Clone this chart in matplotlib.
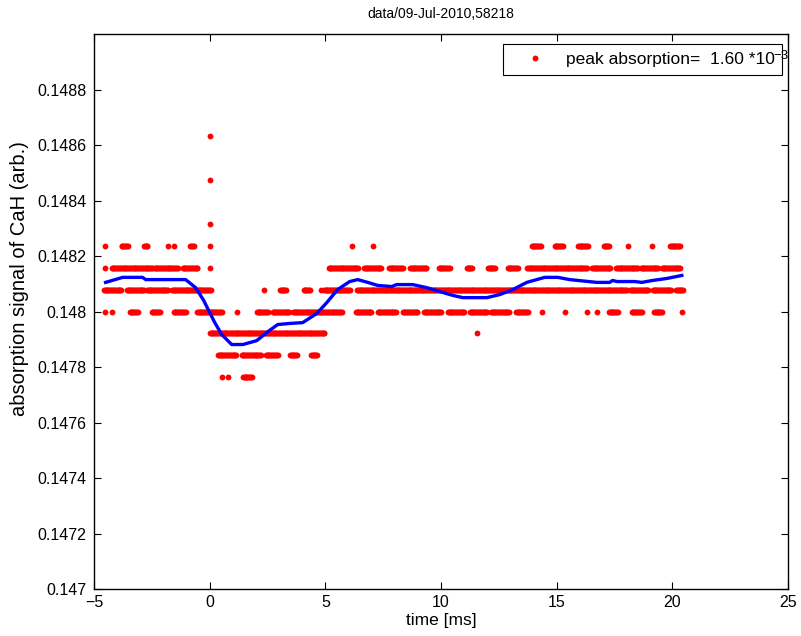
import numpy as np
import matplotlib
matplotlib.use("Agg")
import matplotlib.pyplot as plt

plt.rcParams['font.family'] = ['Liberation Sans', 'DejaVu Sans']

# ADC levels (absorption signal) and sample period [ms]
base_level = 0.148
level_step = 0.0000790
dt = 0.04

# runs of samples sitting on each level: (t_start, t_end) in ms
runs = {
    8: [(0.0, 0.0)],
    6: [(0.0, 0.0)],
    4: [(0.0, 0.0)],
    3: [(-4.54, -4.54), (-3.81, -3.55), (-2.85, -2.68), (-1.82, -1.82), (-1.56, -1.56),
        (-0.86, -0.69), (0.0, 0.0), (6.14, 6.14), (7.05, 7.05), (13.92, 14.31),
        (14.91, 15.26), (15.91, 16.34), (17.03, 17.29), (18.07, 18.07), (19.11, 19.11),
        (19.89, 20.32)],
    2: [(-4.54, -4.54), (-4.24, -3.37), (-3.33, -2.46), (-2.38, -1.38), (-1.17, -0.52),
        (0.0, 0.0), (5.14, 6.40), (6.66, 7.44), (7.74, 8.34), (8.65, 9.38), (9.90, 10.38),
        (11.11, 11.37), (12.02, 12.32), (12.88, 13.32), (13.71, 16.30), (16.52, 17.34),
        (17.56, 18.50), (18.63, 19.37), (19.54, 20.32)],
    1: [(-4.58, -3.81), (-3.59, -2.81), (-2.72, -1.82), (-1.64, 0.04), (2.33, 2.33),
        (3.03, 3.29), (4.06, 4.32), (4.80, 4.80), (4.93, 6.05), (6.36, 18.03),
        (18.16, 18.98), (19.15, 19.97), (20.15, 20.45)],
    0: [(-4.54, -4.54), (-4.24, -4.24), (-3.46, -3.11), (-2.51, -2.16), (-1.56, -1.04),
        (-0.56, 0.52), (1.17, 1.17), (2.03, 2.51), (2.72, 3.46), (3.59, 5.71), (6.31, 7.00),
        (7.26, 8.08), (8.34, 8.99), (9.25, 10.03), (10.29, 11.02), (11.24, 12.02),
        (12.15, 12.97), (13.23, 13.75), (14.35, 14.35), (15.35, 15.35), (16.30, 16.30),
        (16.73, 16.73), (17.25, 17.64), (18.24, 18.68), (19.20, 19.58), (20.40, 20.40)],
    -1: [(0.0, 4.97), (11.54, 11.54)],
    -2: [(0.35, 1.17), (1.38, 2.20), (2.42, 2.94), (3.46, 3.80), (4.37, 4.67)],
    -3: [(0.52, 0.52), (0.78, 0.78), (1.43, 1.82)],
}

# smoothed signal (blue curve)
smooth_t = [-4.50, -3.76, -2.90, -2.77, -1.04, -0.61, -0.26, 0.00, 0.22, 0.52, 0.95, 1.43,
            2.03, 2.59, 2.94, 3.46, 4.02, 4.63, 5.06, 5.53, 6.05, 6.40, 6.83, 7.26, 7.87,
            8.08, 8.78, 9.38, 9.94, 10.51, 10.94, 11.98, 12.54, 13.10, 13.71, 14.48, 15.05,
            15.56, 16.73, 17.29, 17.42, 17.60, 18.37, 18.68, 19.15, 19.76, 20.41]
smooth_y = [0.148105, 0.148123, 0.148123, 0.148115, 0.148115, 0.148086, 0.148040, 0.147996,
            0.147960, 0.147917, 0.147881, 0.147881, 0.147895, 0.147932, 0.147953, 0.147957,
            0.147960, 0.147993, 0.148032, 0.148079, 0.148108, 0.148115, 0.148105, 0.148094,
            0.148090, 0.148097, 0.148097, 0.148086, 0.148072, 0.148058, 0.148050, 0.148050,
            0.148061, 0.148079, 0.148105, 0.148123, 0.148123, 0.148115, 0.148105, 0.148105,
            0.148112, 0.148108, 0.148108, 0.148105, 0.148112, 0.148119, 0.148130]

title = "data/09-Jul-2010,58218"
legend_label = "peak absorption=  1.60 *10"
legend_exp = "\u22123"
yticks = [0.147, 0.1472, 0.1474, 0.1476, 0.1478, 0.148, 0.1482, 0.1484, 0.1486, 0.1488]
ytick_labels = ["0.147", "0.1472", "0.1474", "0.1476", "0.1478", "0.148",
                "0.1482", "0.1484", "0.1486", "0.1488"]
xticks = [-5, 0, 5, 10, 15, 20, 25]

# decode runs into sample points
pts_t, pts_y = [], []
for k, segs in runs.items():
    for a, b in segs:
        t = np.arange(a, b + dt / 2, dt)
        pts_t.extend(t)
        pts_y.extend([base_level + k * level_step] * len(t))

fig = plt.figure(figsize=(8.01, 6.36), dpi=100)
ax = fig.add_axes([0.1174, 0.0739, 0.8664, 0.8726])

ax.plot(pts_t, pts_y, 'o', color='red', markersize=4.2, markeredgewidth=0, label=legend_label)
ax.plot(smooth_t, smooth_y, '-', color='blue', linewidth=2.4)

ax.set_xlim(-5, 25)
ax.set_ylim(0.147, 0.149)
ax.set_xticks(xticks)
ax.set_yticks(yticks)
ax.set_yticklabels(ytick_labels)
ax.tick_params(direction='in', top=True, right=True, labelsize=11.5, length=5, width=0.8)
ax.tick_params(axis='y', pad=5.5)
ax.tick_params(axis='x', pad=4)
for s in ax.spines.values():
    s.set_linewidth(1.0)

ax.set_title(title, fontsize=10, pad=11.5)
ax.set_xlabel("time [ms]", fontsize=12.5)
ax.xaxis.set_label_coords(0.5, -0.043)
ax.set_ylabel("absorption signal of CaH (arb.)", fontsize=14.5)
ax.yaxis.set_label_coords(-0.094, 0.559)

leg = ax.legend(loc='upper right', bbox_to_anchor=(0.992, 0.982), borderaxespad=0,
                fontsize=12.5, frameon=True, fancybox=False, edgecolor='black',
                borderpad=0.45, handletextpad=0.35, handlelength=2.8, framealpha=1)
leg.get_frame().set_linewidth(0.8)

# exponent spills over the legend frame, as in the original
fig.canvas.draw()
bb = leg.get_texts()[0].get_window_extent()
W, H = fig.canvas.get_width_height()
fig.text((bb.x1 - 1) / W, (bb.y0 + 8) / H, legend_exp, fontsize=9.5,
         ha='left', va='baseline')

fig.savefig("out.png", dpi=100)
